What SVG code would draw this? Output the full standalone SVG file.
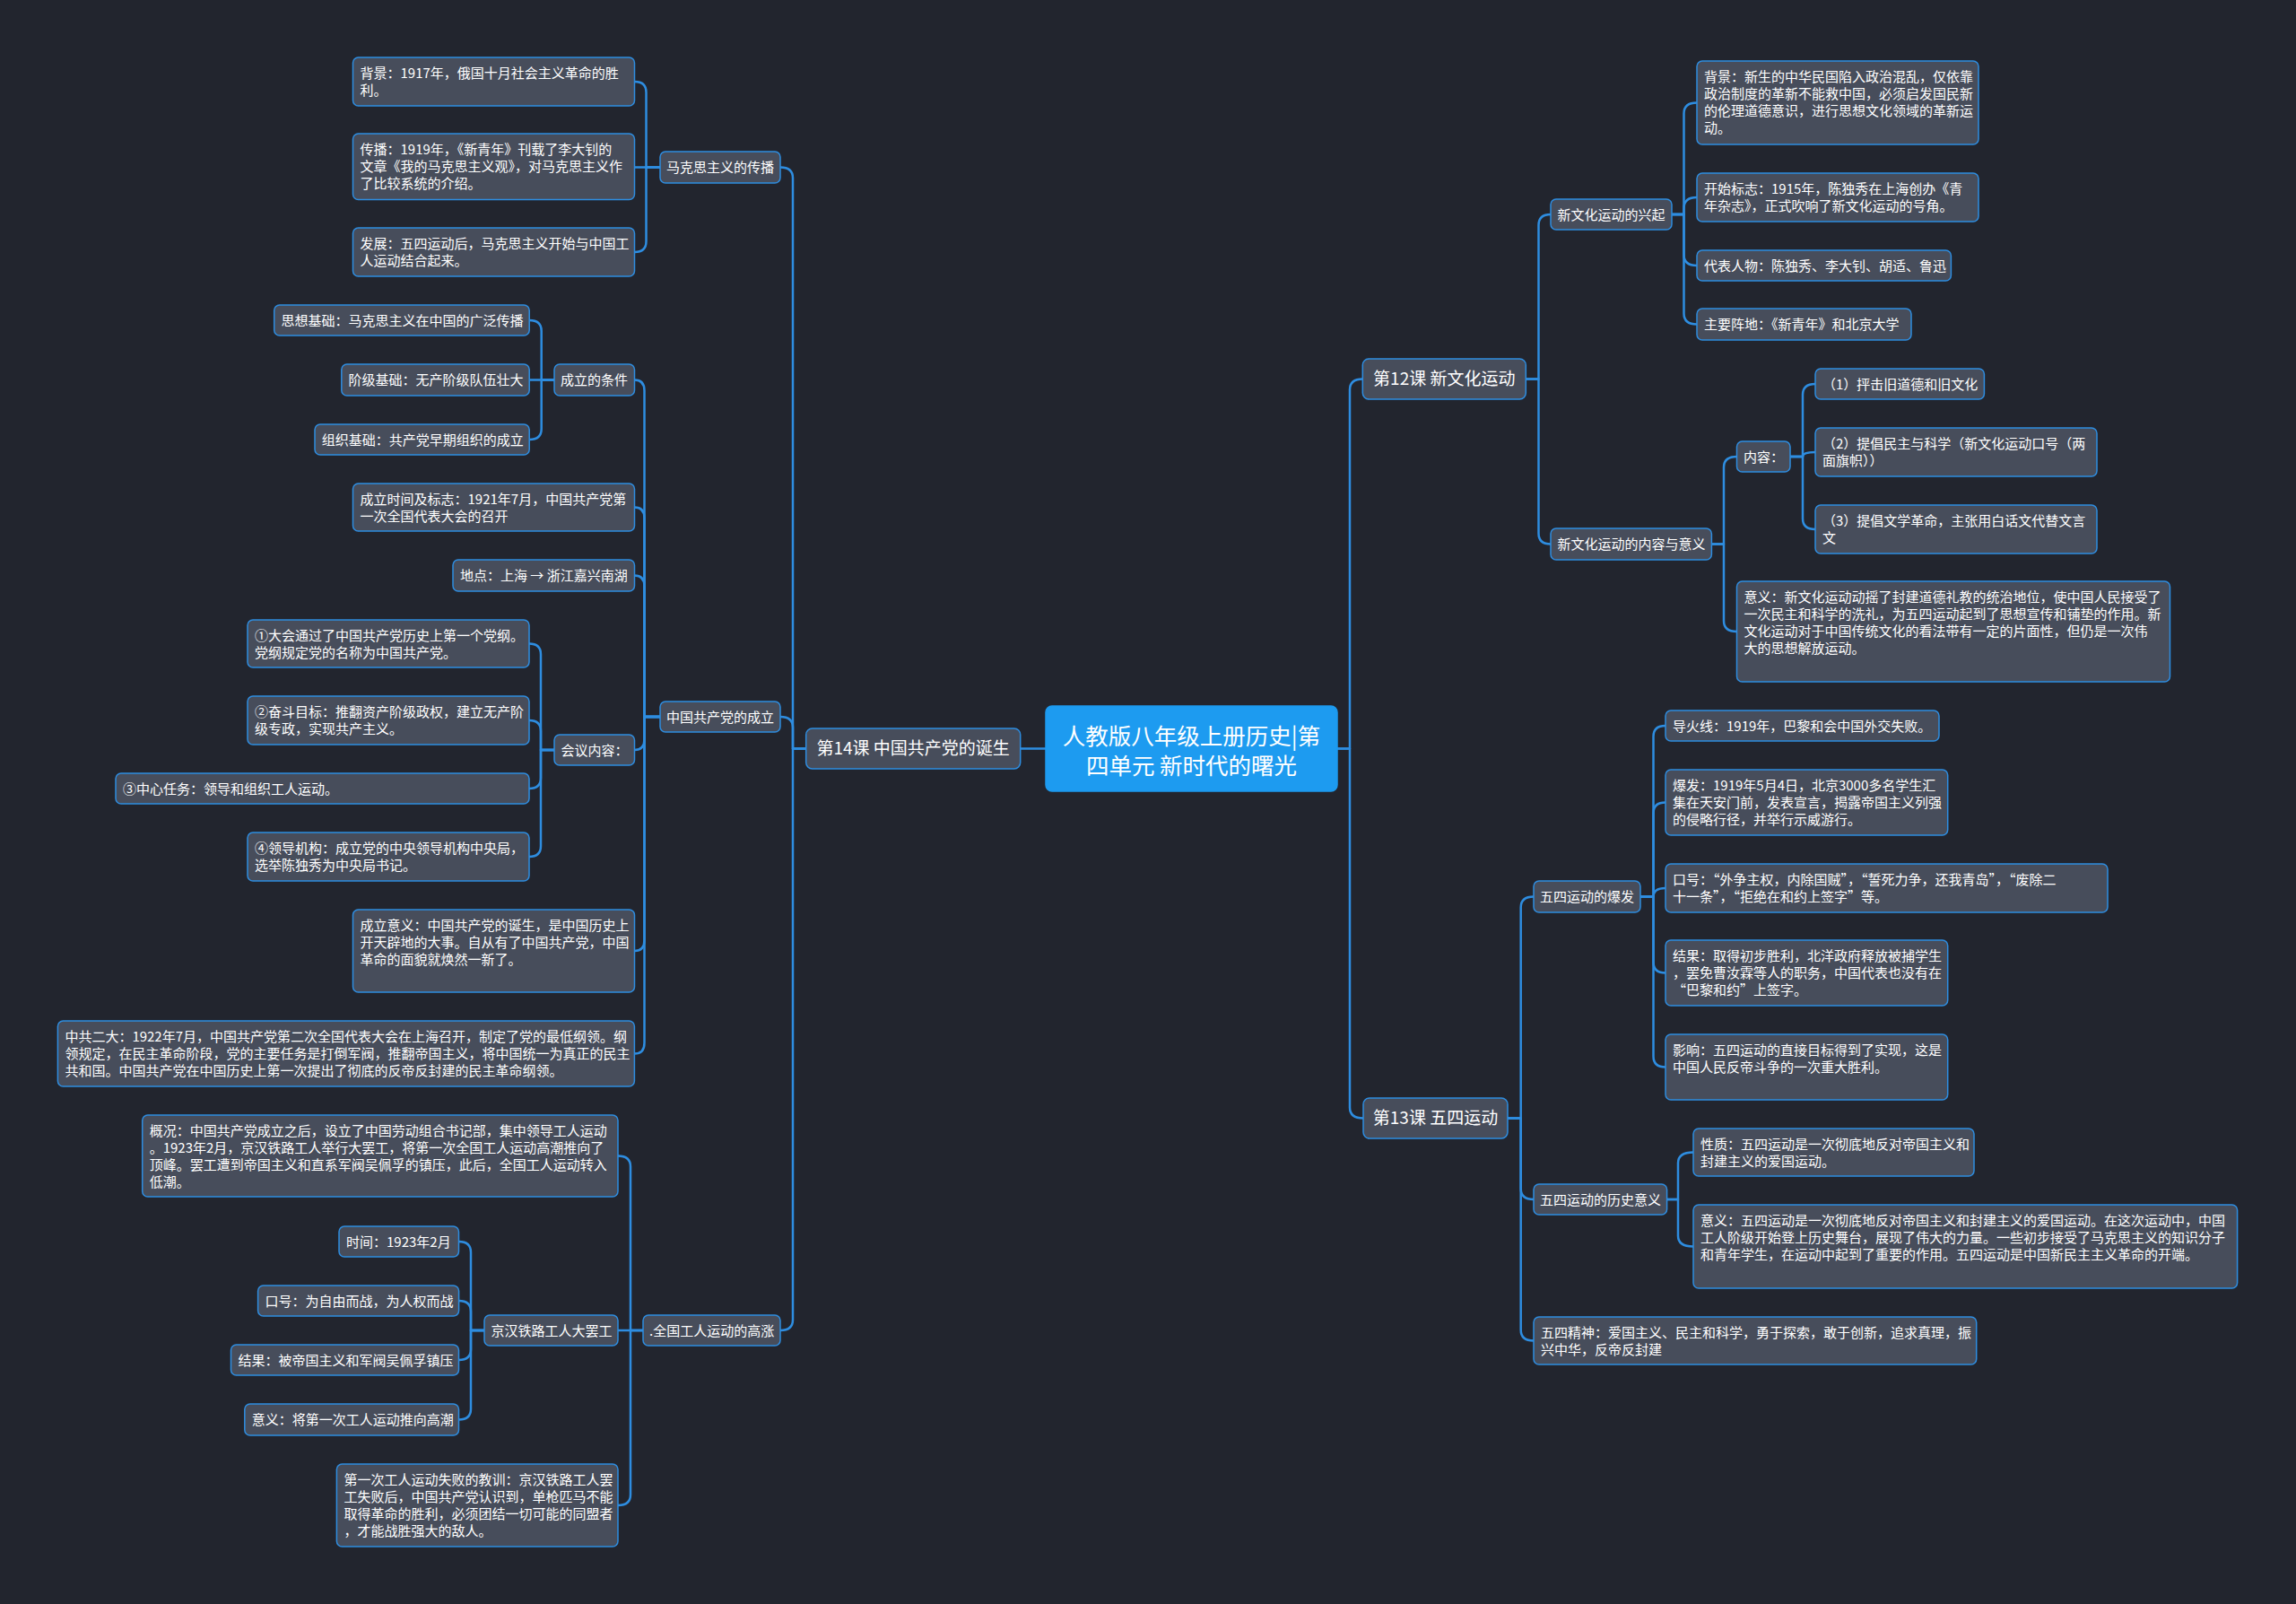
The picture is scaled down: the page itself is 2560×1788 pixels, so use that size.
<svg xmlns="http://www.w3.org/2000/svg" width="2560" height="1788" viewBox="0 0 2560 1788" xml:lang="zh-CN">
<style>
.bg{fill:#22252e}
.n rect{fill:#474d5b;stroke:#2e8de0;stroke-width:1.5}
.r rect{fill:#1d9bf0;stroke:#1d9bf0;stroke-width:1.5}
text{font-family:"Noto Sans CJK SC","Noto Sans",sans-serif;fill:#ffffff;font-size:15px}
.n text{transform:translateY(-1px)}
.fw{font-feature-settings:"fwid"}
.t1{font-size:19px}
.t0{font-size:25.5px}
.c path{fill:none;stroke:#2e8de0;stroke-width:2.5;stroke-linecap:round;stroke-linejoin:round}
</style>
<rect class="bg" x="0" y="0" width="2560" height="1788"/>
<g id="connectors" class="c">
<path d="M1166 834.5 H1138"/>
<path d="M1491 834.5 H1505 V434.5 Q1505 422.5 1519.3 422.5"/>
<path d="M1491 834.5 H1505 V1234.5 Q1505 1246.5 1520 1246.5"/>
<path d="M898.7 834.5 H884 V198.5 Q884 186.5 870 186.5"/>
<path d="M898.7 834.5 H884 V811 Q884 799 870 799"/>
<path d="M898.7 834.5 H884 V1471 Q884 1483 870 1483"/>
<path d="M736 186.5 H720.5 V103 Q720.5 91 707.5 91"/>
<path d="M736 186.5 H707.5"/>
<path d="M736 186.5 H720.5 V269 Q720.5 281 707.5 281"/>
<path d="M736 799 H718.5 V435.5 Q718.5 423.5 707.5 423.5"/>
<path d="M736 799 H718.5 V577.5 Q718.5 565.5 707.5 565.5"/>
<path d="M736 799 H718.5 V653.5 Q718.5 641.5 707.5 641.5"/>
<path d="M736 799 H718.5 V824 Q718.5 836 707.5 836"/>
<path d="M736 799 H718.5 V1048 Q718.5 1060 707.5 1060"/>
<path d="M736 799 H718.5 V1162.5 Q718.5 1174.5 707.5 1174.5"/>
<path d="M618 423.5 H603.7 V369 Q603.7 357 590.2 357"/>
<path d="M618 423.5 H590.2"/>
<path d="M618 423.5 H603.7 V478 Q603.7 490 590.2 490"/>
<path d="M618 836 H603 V729.5 Q603 717.5 590 717.5"/>
<path d="M618 836 H603 V815 Q603 803 590 803"/>
<path d="M618 836 H603 V867 Q603 879 590 879"/>
<path d="M618 836 H603 V943 Q603 955 590 955"/>
<path d="M717 1483 H703 V1300.5 Q703 1288.5 689 1288.5"/>
<path d="M717 1483 H689"/>
<path d="M717 1483 H703 V1666 Q703 1678 689 1678"/>
<path d="M540 1483 H525 V1396 Q525 1384 511.5 1384"/>
<path d="M540 1483 H525 V1462 Q525 1450 511.5 1450"/>
<path d="M540 1483 H525 V1504 Q525 1516 511.5 1516"/>
<path d="M540 1483 H525 V1570.5 Q525 1582.5 511.5 1582.5"/>
<path d="M1701.3 422.5 H1715.5 V251 Q1715.5 239 1729 239"/>
<path d="M1701.3 422.5 H1715.5 V594.5 Q1715.5 606.5 1729 606.5"/>
<path d="M1864 239 H1877.5 V126.5 Q1877.5 114.5 1892 114.5"/>
<path d="M1864 239 H1877.5 V232 Q1877.5 220 1892 220"/>
<path d="M1864 239 H1877.5 V284 Q1877.5 296 1892 296"/>
<path d="M1864 239 H1877.5 V349.5 Q1877.5 361.5 1892 361.5"/>
<path d="M1908.4 606.5 H1922 V521 Q1922 509 1936.5 509"/>
<path d="M1908.4 606.5 H1922 V692 Q1922 704 1936.5 704"/>
<path d="M1996 509 H2010 V440 Q2010 428 2024 428"/>
<path d="M1996 509 H2010 Q2010 504 2024 504"/>
<path d="M1996 509 H2010 V578 Q2010 590 2024 590"/>
<path d="M1681 1246.5 H1695.7 V1011.5 Q1695.7 999.5 1710 999.5"/>
<path d="M1681 1246.5 H1695.7 V1325 Q1695.7 1337 1710 1337"/>
<path d="M1681 1246.5 H1695.7 V1482.5 Q1695.7 1494.5 1710 1494.5"/>
<path d="M1829 999.5 H1843.5 V821 Q1843.5 809 1857 809"/>
<path d="M1829 999.5 H1843.5 V906.5 Q1843.5 894.5 1857 894.5"/>
<path d="M1829 999.5 H1843.5 Q1843.5 990 1857 990"/>
<path d="M1829 999.5 H1843.5 V1072.5 Q1843.5 1084.5 1857 1084.5"/>
<path d="M1829 999.5 H1843.5 V1177.5 Q1843.5 1189.5 1857 1189.5"/>
<path d="M1858.6 1337 H1871 V1296.5 Q1871 1284.5 1888 1284.5"/>
<path d="M1858.6 1337 H1871 V1377.5 Q1871 1389.5 1888 1389.5"/>
</g>

<g id="root" class="r"><rect x="1166" y="787" width="325" height="95" rx="7"/>
<text class="t0" x="1328.5" y="829.5" text-anchor="middle">人教版八年级上册历史|第</text>
<text class="t0" x="1328.5" y="862.8" text-anchor="middle">四单元 新时代的曙光</text></g>

<g id="l14" class="n"><rect x="898.7" y="812" width="239" height="45" rx="7"/>
<text class="t1" x="1018.2" y="842.2" text-anchor="middle">第14课 中国共产党的诞生</text></g>

<g id="mkszy" class="n"><rect x="736" y="169" width="134" height="35" rx="6"/><text x="743" y="193">马克思主义的传播</text></g>
<g id="mk_bj" class="n"><rect x="393.5" y="64" width="314" height="54" rx="6"/><text x="401.5" y="88">背景：1917年，俄国十月社会主义革命的胜<tspan x="401.5" dy="19">利。</tspan></text></g>
<g id="mk_cb" class="n"><rect x="393.5" y="149" width="314" height="73.5" rx="6"/><text x="401.5" y="173">传播：1919年，《新青年》刊载了李大钊的<tspan x="401.5" dy="19">文章《我的马克思主义观》，对马克思主义作</tspan><tspan x="401.5" dy="19">了比较系统的介绍。</tspan></text></g>
<g id="mk_fz" class="n"><rect x="393.5" y="254" width="314" height="54" rx="6"/><text x="401.5" y="278">发展：五四运动后，马克思主义开始与中国工<tspan x="401.5" dy="19">人运动结合起来。</tspan></text></g>

<g id="cl" class="n"><rect x="736" y="782" width="134" height="34" rx="6"/><text x="743" y="806">中国共产党的成立</text></g>
<g id="cl_tj" class="n"><rect x="618" y="406" width="89.5" height="35" rx="6"/><text x="625" y="430">成立的条件</text></g>
<g id="tj1" class="n"><rect x="305.7" y="340" width="284.5" height="34" rx="6"/><text x="313.5" y="364">思想基础：马克思主义在中国的广泛传播</text></g>
<g id="tj2" class="n"><rect x="380.8" y="406" width="209.4" height="35" rx="6"/><text x="388.5" y="430">阶级基础：无产阶级队伍壮大</text></g>
<g id="tj3" class="n"><rect x="351" y="473" width="239.2" height="34" rx="6"/><text x="358.8" y="497">组织基础：共产党早期组织的成立</text></g>
<g id="cl_sj" class="n"><rect x="393.5" y="539" width="314" height="53" rx="6"/><text x="401.5" y="563">成立时间及标志：1921年7月，中国共产党第<tspan x="401.5" dy="19">一次全国代表大会的召开</tspan></text></g>
<g id="cl_dd" class="n"><rect x="505" y="624" width="202.5" height="35" rx="6"/><text x="513" y="648">地点：上海 → 浙江嘉兴南湖</text></g>
<g id="cl_hy" class="n"><rect x="618" y="819" width="89.5" height="34" rx="6"/><text x="625.5" y="843">会议内容：</text></g>
<g id="hy1" class="n"><rect x="276" y="691" width="314" height="53" rx="6"/><text x="284" y="715">①大会通过了中国共产党历史上第一个党纲。<tspan x="284" dy="19">党纲规定党的名称为中国共产党。</tspan></text></g>
<g id="hy2" class="n"><rect x="276" y="776" width="314" height="54" rx="6"/><text x="284" y="800">②奋斗目标：推翻资产阶级政权，建立无产阶<tspan x="284" dy="19">级专政，实现共产主义。</tspan></text></g>
<g id="hy3" class="n"><rect x="129" y="862" width="461" height="34" rx="6"/><text x="137" y="886">③中心任务：领导和组织工人运动。</text></g>
<g id="hy4" class="n"><rect x="276" y="928" width="314" height="54" rx="6"/><text x="284" y="952">④领导机构：成立党的中央领导机构中央局，<tspan x="284" dy="19">选举陈独秀为中央局书记。</tspan></text></g>
<g id="cl_yy" class="n"><rect x="393.5" y="1014" width="314" height="92" rx="6"/><text x="401.5" y="1038">成立意义：中国共产党的诞生，是中国历史上<tspan x="401.5" dy="19">开天辟地的大事。自从有了中国共产党，中国</tspan><tspan x="401.5" dy="19">革命的面貌就焕然一新了。</tspan></text></g>
<g id="cl_ed" class="n"><rect x="64.4" y="1138" width="643" height="73" rx="6"/><text x="72.4" y="1162">中共二大：1922年7月，中国共产党第二次全国代表大会在上海召开，制定了党的最低纲领。纲<tspan x="72.4" dy="19">领规定，在民主革命阶段，党的主要任务是打倒军阀，推翻帝国主义，将中国统一为真正的民主</tspan><tspan x="72.4" dy="19">共和国。中国共产党在中国历史上第一次提出了彻底的反帝反封建的民主革命纲领。</tspan></text></g>

<g id="gz" class="n"><rect x="717" y="1466" width="153" height="34" rx="6"/><text x="724" y="1490">.全国工人运动的高涨</text></g>
<g id="gz_gk" class="n"><rect x="158.7" y="1243" width="530.3" height="91" rx="6"/><text x="166.7" y="1267">概况：中国共产党成立之后，设立了中国劳动组合书记部，集中领导工人运动<tspan x="166.7" dy="19">。1923年2月，京汉铁路工人举行大罢工，将第一次全国工人运动高潮推向了</tspan><tspan x="166.7" dy="19">顶峰。罢工遭到帝国主义和直系军阀吴佩孚的镇压，此后，全国工人运动转入</tspan><tspan x="166.7" dy="19">低潮。</tspan></text></g>
<g id="jh" class="n"><rect x="540" y="1466" width="149" height="34" rx="6"/><text x="547.5" y="1490">京汉铁路工人大罢工</text></g>
<g id="jh1" class="n"><rect x="378" y="1367" width="133.5" height="34" rx="6"/><text x="386" y="1391">时间：1923年2月</text></g>
<g id="jh2" class="n"><rect x="287.6" y="1433" width="224" height="34" rx="6"/><text x="295.6" y="1457">口号：为自由而战，为人权而战</text></g>
<g id="jh3" class="n"><rect x="257.5" y="1499" width="254" height="34" rx="6"/><text x="265.5" y="1523">结果：被帝国主义和军阀吴佩孚镇压</text></g>
<g id="jh4" class="n"><rect x="272.8" y="1565" width="238.7" height="35" rx="6"/><text x="280.8" y="1589">意义：将第一次工人运动推向高潮</text></g>
<g id="gz_jx" class="n"><rect x="375.4" y="1632" width="313.6" height="92" rx="6"/><text x="383.4" y="1656">第一次工人运动失败的教训：京汉铁路工人罢<tspan x="383.4" dy="19">工失败后，中国共产党认识到，单枪匹马不能</tspan><tspan x="383.4" dy="19">取得革命的胜利，必须团结一切可能的同盟者</tspan><tspan x="383.4" dy="19">，才能战胜强大的敌人。</tspan></text></g>

<g id="l12" class="n"><rect x="1519.3" y="400" width="182" height="45" rx="7"/>
<text class="t1" x="1610.3" y="430.2" text-anchor="middle">第12课 新文化运动</text></g>
<g id="xq" class="n"><rect x="1729" y="222" width="135" height="34" rx="6"/><text x="1736.5" y="246">新文化运动的兴起</text></g>
<g id="xq1" class="n"><rect x="1892" y="68" width="314" height="93" rx="6"/><text x="1900" y="92">背景：新生的中华民国陷入政治混乱，仅依靠<tspan x="1900" dy="19">政治制度的革新不能救中国，必须启发国民新</tspan><tspan x="1900" dy="19">的伦理道德意识，进行思想文化领域的革新运</tspan><tspan x="1900" dy="19">动。</tspan></text></g>
<g id="xq2" class="n"><rect x="1892" y="193" width="314" height="54" rx="6"/><text x="1900" y="217">开始标志：1915年，陈独秀在上海创办《青<tspan x="1900" dy="19">年杂志》，正式吹响了新文化运动的号角。</tspan></text></g>
<g id="xq3" class="n"><rect x="1892" y="279" width="283.4" height="34" rx="6"/><text x="1900" y="303">代表人物：陈独秀、李大钊、胡适、鲁迅</text></g>
<g id="xq4" class="n"><rect x="1892" y="344" width="239" height="35" rx="6"/><text x="1900" y="368">主要阵地：《新青年》和北京大学</text></g>
<g id="nr" class="n"><rect x="1729" y="589" width="179.4" height="35" rx="6"/><text x="1736.5" y="613">新文化运动的内容与意义</text></g>
<g id="nr_nr" class="n"><rect x="1936.5" y="492" width="59.5" height="34" rx="6"/><text x="1944" y="516">内容：</text></g>
<g id="nr1" class="n"><rect x="2024" y="411" width="188.4" height="34" rx="6"/><text x="2032" y="435">（1）抨击旧道德和旧文化</text></g>
<g id="nr2" class="n"><rect x="2024" y="477" width="314" height="54" rx="6"/><text x="2032" y="501">（2）提倡民主与科学（新文化运动口号（两<tspan x="2032" dy="19">面旗帜））</tspan></text></g>
<g id="nr3" class="n"><rect x="2024" y="563" width="314" height="54" rx="6"/><text x="2032" y="587">（3）提倡文学革命，主张用白话文代替文言<tspan x="2032" dy="19">文</tspan></text></g>
<g id="nr_yy" class="n"><rect x="1936.5" y="648" width="483" height="112" rx="6"/><text x="1944.5" y="672">意义：新文化运动动摇了封建道德礼教的统治地位，使中国人民接受了<tspan x="1944.5" dy="19">一次民主和科学的洗礼，为五四运动起到了思想宣传和铺垫的作用。新</tspan><tspan x="1944.5" dy="19">文化运动对于中国传统文化的看法带有一定的片面性，但仍是一次伟</tspan><tspan x="1944.5" dy="19">大的思想解放运动。</tspan></text></g>

<g id="l13" class="n"><rect x="1520" y="1224" width="161" height="45" rx="7"/>
<text class="t1" x="1600.5" y="1254.2" text-anchor="middle">第13课 五四运动</text></g>
<g id="bf" class="n"><rect x="1710" y="982" width="119" height="35" rx="6"/><text x="1717" y="1006">五四运动的爆发</text></g>
<g id="bf1" class="n"><rect x="1857" y="792" width="305" height="34" rx="6"/><text x="1865" y="816">导火线：1919年，巴黎和会中国外交失败。</text></g>
<g id="bf2" class="n"><rect x="1857" y="858" width="314.7" height="73" rx="6"/><text x="1865" y="882">爆发：1919年5月4日，北京3000多名学生汇<tspan x="1865" dy="19">集在天安门前，发表宣言，揭露帝国主义列强</tspan><tspan x="1865" dy="19">的侵略行径，并举行示威游行。</tspan></text></g>
<g id="bf3" class="n"><rect x="1857" y="963" width="493" height="54" rx="6"/><text class="fw" x="1865" y="987">口号：“外争主权，内除国贼”，“誓死力争，还我青岛”，“废除二<tspan x="1865" dy="19">十一条”，“拒绝在和约上签字”等。</tspan></text></g>
<g id="bf4" class="n"><rect x="1857" y="1048" width="314.7" height="73" rx="6"/><text class="fw" x="1865" y="1072">结果：取得初步胜利，北洋政府释放被捕学生<tspan x="1865" dy="19">，罢免曹汝霖等人的职务，中国代表也没有在</tspan><tspan x="1865" dy="19">“巴黎和约”上签字。</tspan></text></g>
<g id="bf5" class="n"><rect x="1857" y="1153" width="314.7" height="73" rx="6"/><text x="1865" y="1177">影响：五四运动的直接目标得到了实现，这是<tspan x="1865" dy="19">中国人民反帝斗争的一次重大胜利。</tspan></text></g>
<g id="ls" class="n"><rect x="1710" y="1320" width="148.6" height="34" rx="6"/><text x="1717" y="1344">五四运动的历史意义</text></g>
<g id="ls1" class="n"><rect x="1888" y="1258" width="313" height="53" rx="6"/><text x="1896" y="1282">性质：五四运动是一次彻底地反对帝国主义和<tspan x="1896" dy="19">封建主义的爱国运动。</tspan></text></g>
<g id="ls2" class="n"><rect x="1888" y="1343" width="606.6" height="93" rx="6"/><text x="1896" y="1367">意义：五四运动是一次彻底地反对帝国主义和封建主义的爱国运动。在这次运动中，中国<tspan x="1896" dy="19">工人阶级开始登上历史舞台，展现了伟大的力量。一些初步接受了马克思主义的知识分子</tspan><tspan x="1896" dy="19">和青年学生，在运动中起到了重要的作用。五四运动是中国新民主主义革命的开端。</tspan></text></g>
<g id="jsh" class="n"><rect x="1710" y="1468" width="493.7" height="53" rx="6"/><text x="1718" y="1492">五四精神：爱国主义、民主和科学，勇于探索，敢于创新，追求真理，振<tspan x="1718" dy="19">兴中华，反帝反封建</tspan></text></g>
</svg>
